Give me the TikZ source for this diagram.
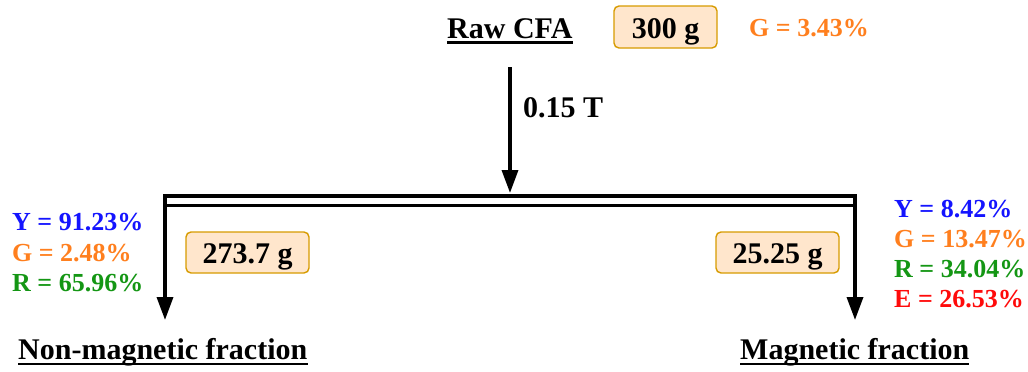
\documentclass[tikz,border=0pt]{standalone}
\usepackage{fontspec}
\setmainfont{Liberation Serif}
\usetikzlibrary{arrows.meta}
\definecolor{cblue}{RGB}{20,20,255}
\definecolor{corange}{RGB}{255,127,30}
\definecolor{cgreen}{RGB}{20,150,20}
\definecolor{cred}{RGB}{255,10,10}
\definecolor{boxfill}{HTML}{FFE6CC}
\definecolor{boxdraw}{HTML}{D79B00}
\tikzset{
  big/.style={inner sep=0pt, anchor=base west, font=\fontsize{30}{36}\selectfont\bfseries},
  val/.style={inner sep=0pt, anchor=base west, font=\fontsize{26}{31}\selectfont\bfseries},
  massbox/.style={draw=boxdraw, fill=boxfill, line width=1.4pt, rounded corners=5pt, inner sep=0pt, anchor=base,
    font=\fontsize{30}{36}\selectfont\bfseries},
  uline/.style={line width=2.2pt},
  flow/.style={line width=3.5pt, -{Triangle[length=23pt,width=16pt]}},
  bar/.style={line width=3.5pt},
}
\begin{document}
\begin{tikzpicture}[x=1pt,y=-1pt]
\useasboundingbox (0,0) rectangle (1028,372);
% top
\node[big] (raw) at (447,38) {Raw CFA};
\draw[uline] ([yshift=-4.5pt]raw.base west) -- ([yshift=-4.5pt]raw.base east);
\node[massbox, text height=32pt, text depth=10pt, minimum width=103pt] (m0) at (665.5,38) {300 g};
\node[val, text=corange] (g0) at (749,36) {G = 3.43\%};
% top arrow
\coordinate (src) at (510,67);
\coordinate (split) at (510,193);
\draw[flow] (src) -- (split);
\node[big] (field) at (523,117) {0.15 T};
% bar
\coordinate (bl) at (165,196);
\coordinate (br) at (855,196);
\coordinate (bl2) at (165,205.5);
\coordinate (br2) at (855,205.5);
\draw[bar] (bl) rectangle (br2);
\coordinate (nmend) at (165,320);
\coordinate (mend) at (855,320);
\draw[flow] (bl) -- (nmend);
\draw[flow] (br) -- (mend);
% left values
\node[val, text=cblue] (ly) at (12,230) {Y = 91.23\%};
\node[val, text=corange] (lg) at (12,261) {G = 2.48\%};
\node[val, text=cgreen] (lr) at (12,291) {R = 65.96\%};
\node[massbox, text height=31pt, text depth=10pt, minimum width=123pt] (m1) at (247.5,263) {273.7 g};
% right values
\node[massbox, text height=31pt, text depth=10pt, minimum width=123pt] (m2) at (777.5,263) {25.25 g};
\node[val, text=cblue] (ry) at (894,217) {Y = 8.42\%};
\node[val, text=corange] (rg) at (894,247) {G = 13.47\%};
\node[val, text=cgreen] (rr) at (894,277) {R = 34.04\%};
\node[val, text=cred] (re) at (894,307) {E = 26.53\%};
% bottom labels
\node[big] (nm) at (18,359) {Non-magnetic fraction};
\draw[uline] ([yshift=-5pt]nm.base west) -- ([yshift=-5pt]nm.base east);
\node[big] (mg) at (740,359) {Magnetic fraction};
\draw[uline] ([yshift=-5pt]mg.base west) -- ([yshift=-5pt]mg.base east);
\end{tikzpicture}
\end{document}
